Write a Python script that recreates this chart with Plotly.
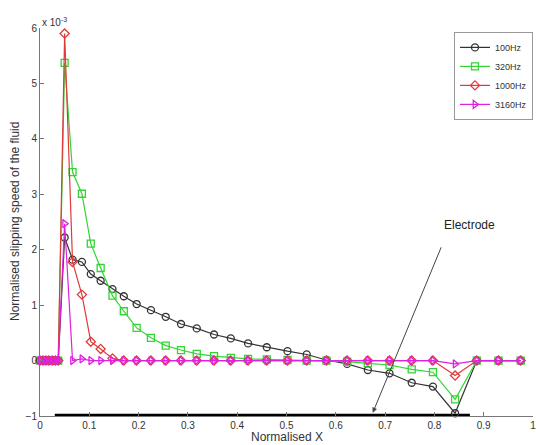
import plotly.graph_objects as go

x_pos = [0, 0.006, 0.012, 0.018, 0.025, 0.031, 0.037, 0.05, 0.066, 0.085, 0.103, 0.123,
         0.147, 0.170, 0.196, 0.225, 0.255, 0.286, 0.318, 0.353, 0.387, 0.422, 0.46,
         0.502, 0.541, 0.581, 0.623, 0.665, 0.709, 0.754, 0.797, 0.842, 0.886, 0.93, 0.975]

lead_zeros = [0, 0, 0, 0, 0, 0, 0]
y_100 = lead_zeros + [2.22, 1.82, 1.78, 1.56, 1.44, 1.29, 1.16, 1.02, 0.91, 0.79, 0.66, 0.58,
                      0.47, 0.40, 0.31, 0.24, 0.17, 0.11, 0.01, -0.06, -0.17, -0.23, -0.40,
                      -0.47, -0.95, 0, 0, 0]
y_320 = lead_zeros + [5.37, 3.40, 3.01, 2.11, 1.67, 1.17, 0.89, 0.59, 0.41, 0.27, 0.19, 0.12,
                      0.08, 0.05, 0.03, 0.02, 0.01, 0.0, 0.0, -0.02, -0.05, -0.08, -0.16,
                      -0.21, -0.70, 0, 0, 0]
y_1000 = lead_zeros + [5.90, 1.78, 1.19, 0.34, 0.21, 0.04, 0, 0, 0, 0, 0, 0, 0, 0, 0, 0, 0,
                       0, 0, 0, 0, 0, 0, 0, -0.27, 0, 0, 0]
y_3160 = lead_zeros + [2.47, 0, 0.03, 0, 0, 0, 0, 0, 0, 0, 0, 0, 0, 0, 0, 0, 0, 0, 0, 0, 0,
                       0, 0, 0, -0.06, 0, 0, 0]

names = ["100Hz", "320Hz", "1000Hz", "3160Hz"]
colors = ["#333333", "#33d433", "#e03a3a", "#e020e0"]
symbols = ["circle-open", "square-open", "diamond-open", "triangle-right-open"]
series = [y_100, y_320, y_1000, y_3160]

electrode_x = [0.03, 0.872]
electrode_y = [-1, -1]
arrow_tail = (0.815, 2.07)
arrow_head = (0.675, -0.94)
electrode_label = (0.872, 2.45)

x_ticks = [0, 0.1, 0.2, 0.3, 0.4, 0.5, 0.6, 0.7, 0.8, 0.9, 1]
x_tick_text = ["0", "0.1", "0.2", "0.3", "0.4", "0.5", "0.6", "0.7", "0.8", "0.9", "1"]
y_ticks = [-1, 0, 1, 2, 3, 4, 5, 6]

fig = go.Figure()

fig.add_trace(go.Scatter(x=electrode_x, y=electrode_y, mode="lines",
                         line=dict(color="black", width=4.5), showlegend=False,
                         hoverinfo="skip", cliponaxis=False))

for name, col, sym, ys in zip(names, colors, symbols, series):
    fig.add_trace(go.Scatter(x=x_pos, y=ys, mode="lines+markers", name=name,
                             line=dict(color=col, width=1.2),
                             marker=dict(symbol=sym, size=7, color=col, line=dict(width=1.3, color=col)),
                             cliponaxis=False))

font = "Liberation Sans, Arial, sans-serif"

fig.add_annotation(x=arrow_head[0], y=arrow_head[1], ax=arrow_tail[0], ay=arrow_tail[1],
                   xref="x", yref="y", axref="x", ayref="y", showarrow=True,
                   arrowhead=2, arrowsize=1, arrowwidth=1, arrowcolor="#444", text="")
fig.add_annotation(x=electrode_label[0], y=electrode_label[1], xref="x", yref="y", text="Electrode",
                   showarrow=False, xanchor="center", yanchor="middle",
                   font=dict(size=12, color="#222", family=font))
fig.add_annotation(x=0, y=1, xref="paper", yref="paper", text="x 10<sup>-3</sup>",
                   showarrow=False, xanchor="left", yanchor="bottom", xshift=0, yshift=-2,
                   font=dict(size=10, color="#333", family=font))
fig.add_annotation(x=0.5, y=0, xref="paper", yref="paper", text="Normalised X",
                   showarrow=False, xanchor="center", yanchor="middle", yshift=-21,
                   font=dict(size=12, color="#333", family=font))
fig.add_annotation(x=0, y=0.5, xref="paper", yref="paper", text="Normalised slipping speed of the fluid",
                   showarrow=False, xanchor="center", yanchor="middle", xshift=-25, textangle=-90,
                   font=dict(size=12, color="#333", family=font))

fig.update_layout(
    width=537, height=445,
    margin=dict(l=40, r=4, t=28, b=29, autoexpand=False),
    paper_bgcolor="white", plot_bgcolor="white",
    font=dict(family=font, size=10, color="#333"),
    showlegend=True,
    legend=dict(x=1, y=0.99, xanchor="right", yanchor="top",
                bordercolor="#999", borderwidth=1, bgcolor="white",
                font=dict(size=9, color="#333", family=font),
                tracegroupgap=0, itemwidth=30),
    xaxis=dict(range=[0, 1], tickvals=x_ticks, ticktext=x_tick_text,
               showline=True, linecolor="#777", linewidth=1, ticks="inside",
               ticklen=4, tickcolor="#777", showgrid=False, zeroline=False,
               automargin=False, tickfont=dict(size=10), ticklabeloverflow="allow"),
    yaxis=dict(range=[-1, 6], tickvals=y_ticks,
               showline=True, linecolor="#777", linewidth=1, ticks="inside",
               ticklen=4, tickcolor="#777", showgrid=False, zeroline=False,
               automargin=False, tickfont=dict(size=10), ticklabeloverflow="allow"),
)

fig.write_html("out.html", config={"displayModeBar": False},
               post_script="document.body.style.margin='0';document.body.style.overflow='hidden';")
